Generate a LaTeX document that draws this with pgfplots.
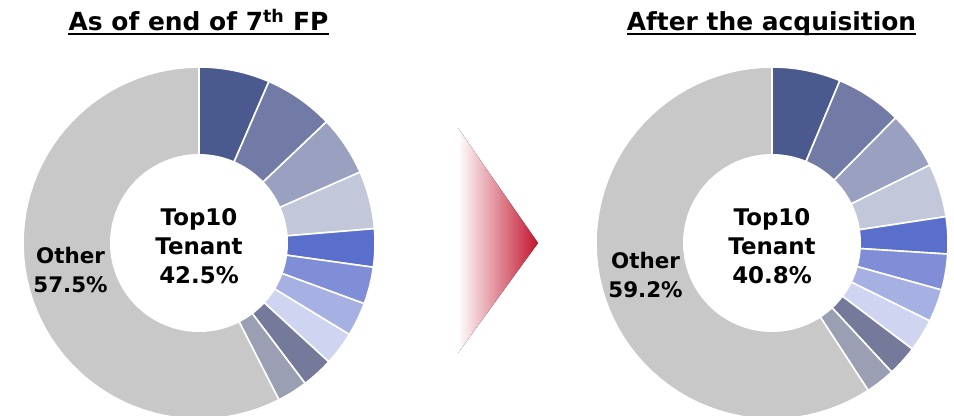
\documentclass[border=0pt]{standalone}
\usepackage{pgfplots}
\pgfplotsset{compat=1.18}
\usepackage{fontspec}
\setmainfont{DejaVu Sans}
\definecolor{c1}{HTML}{4B5A8E}
\definecolor{c2}{HTML}{717BA6}
\definecolor{c3}{HTML}{9AA1C0}
\definecolor{c4}{HTML}{C2C7DA}
\definecolor{c5}{HTML}{5A6ECB}
\definecolor{c6}{HTML}{7F8ED6}
\definecolor{c7}{HTML}{A6B0E2}
\definecolor{c8}{HTML}{CFD5F0}
\definecolor{c9}{HTML}{75799A}
\definecolor{c10}{HTML}{9A9FB3}
\definecolor{oth}{HTML}{C8C8C8}
\definecolor{arrowred}{HTML}{C2152E}
% #1 cx, #2 cy, #3 list value/colour (percent)
\newcommand\donut[3]{%
  \gdef\cum{0}%
  \foreach \v/\col in {#3} {%
    \pgfmathsetmacro\aA{\cum*3.6}%
    \pgfmathsetmacro\newcum{\cum+\v}%
    \pgfmathsetmacro\aB{\newcum*3.6}%
    \xdef\cum{\newcum}%
    \edef\tmp{\noexpand\addplot[fill=\col, draw=white, line width=1.6bp, line join=round, domain=\aA:\aB, samples=60] ({#1+176*sin(x)},{#2-176*cos(x)}) -- (#1,#2) -- cycle;}%
    \tmp
  }%
  \addplot[fill=white, draw=none, domain=0:360, samples=120] ({#1+89*sin(x)},{#2-89*cos(x)}) -- cycle;
}
\newcommand\lbl[3]{%
  \node[anchor=base, black, inner sep=0pt, font=\bfseries\fontsize{21.5}{26}\selectfont] at (#1,#2) {#3};
}
\newcommand\clbl[3]{%
  \node[anchor=base, black, inner sep=0pt, font=\bfseries\fontsize{23}{28}\selectfont] at (#1,#2) {#3};
}
\begin{document}
\begin{tikzpicture}
\begin{axis}[width=954bp, height=416bp, scale only axis,
  xmin=0, xmax=954, ymin=0, ymax=416, y dir=reverse,
  hide axis, clip=true]
\coordinate (BL) at (rel axis cs:0,0);
\coordinate (TR) at (rel axis cs:1,1);
\donut{199}{243}{6.5/c1, 6.4/c2, 5.5/c3, 5.3/c4, 3.5/c5, 3.4/c6, 3.1/c7, 3.1/c8, 2.9/c9, 2.8/c10, 57.5/oth}
\donut{772}{243}{6.3/c1, 6.1/c2, 5.3/c3, 4.9/c4, 3.4/c5, 3.3/c6, 3.0/c7, 3.0/c8, 2.8/c9, 2.7/c10, 59.2/oth}
% arrow
\fill[left color=white, right color=arrowred] (458,128) -- (538,243) -- (458,353) -- cycle;
% titles
\node[anchor=base, inner sep=0pt, font=\bfseries\fontsize{25}{30}\selectfont] (t1) at (198.5,31) {As of end of 7\textsuperscript{th} FP};
\draw[line width=2bp] ([yshift=-3bp]t1.base west) -- ([yshift=-3bp]t1.base east);
\node[anchor=base, inner sep=0pt, font=\bfseries\fontsize{25}{30}\selectfont] (t2) at (771.5,31) {After the acquisition};
\draw[line width=2bp] ([yshift=-3bp]t2.base west) -- ([yshift=-3bp]t2.base east);
% centre labels
\clbl{199}{225}{Top10}
\clbl{199}{254}{Tenant}
\clbl{199}{283}{42.5\%}
\clbl{772}{225}{Top10}
\clbl{772}{254}{Tenant}
\clbl{772}{283}{40.8\%}
% other labels
\lbl{70.5}{263}{Other}
\lbl{70.5}{292}{57.5\%}
\lbl{645.5}{268}{Other}
\lbl{645.5}{297}{59.2\%}
\end{axis}
\pgfresetboundingbox
\path (BL) rectangle (TR);
\end{tikzpicture}
\end{document}
